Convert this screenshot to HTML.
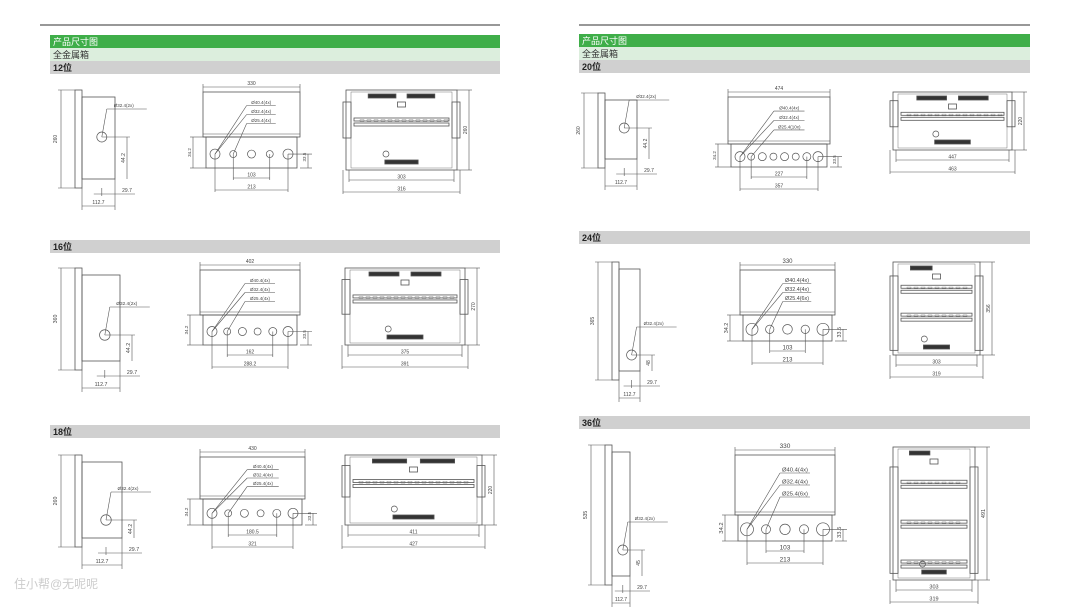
<!DOCTYPE html>
<html><head><meta charset="utf-8">
<style>
body{margin:0;background:#fff;width:1080px;height:607px;overflow:hidden;font-family:"Liberation Sans","Noto Sans CJK SC",sans-serif}
svg{position:absolute;left:0;top:0}
text{font-family:"Liberation Sans","Noto Sans CJK SC",sans-serif}
</style></head><body>
<svg id="s" width="1080" height="607" viewBox="0 0 1080 607">
<line x1="40" y1="25" x2="500" y2="25" stroke="#777" stroke-width="1.5"/>
<line x1="579" y1="25" x2="1030" y2="25" stroke="#777" stroke-width="1.5"/>
<rect x="50" y="35" width="450" height="13" fill="#3fae49"/>
<rect x="50" y="48" width="450" height="13" fill="#dceedd"/>
<rect x="50" y="61" width="450" height="13" fill="#d0d0d0"/>
<text x="53" y="45" font-size="9" fill="#fff">产品尺寸图</text>
<text x="53" y="58" font-size="9" fill="#333">全金属箱</text>
<text x="53" y="71" font-size="9" fill="#222" font-weight="bold">12位</text>
<rect x="579" y="34" width="451" height="13" fill="#3fae49"/>
<rect x="579" y="47" width="451" height="13" fill="#dceedd"/>
<rect x="579" y="60" width="451" height="13" fill="#d0d0d0"/>
<text x="582" y="44" font-size="9" fill="#fff">产品尺寸图</text>
<text x="582" y="57" font-size="9" fill="#333">全金属箱</text>
<text x="582" y="70" font-size="9" fill="#222" font-weight="bold">20位</text>
<rect x="50" y="240" width="450" height="13" fill="#d0d0d0"/>
<text x="53" y="250" font-size="9" fill="#222" font-weight="bold">16位</text>
<rect x="50" y="425" width="450" height="13" fill="#d0d0d0"/>
<text x="53" y="435" font-size="9" fill="#222" font-weight="bold">18位</text>
<rect x="579" y="231" width="451" height="13" fill="#d0d0d0"/>
<text x="582" y="241" font-size="9" fill="#222" font-weight="bold">24位</text>
<rect x="579" y="416" width="451" height="13" fill="#d0d0d0"/>
<text x="582" y="426" font-size="9" fill="#222" font-weight="bold">36位</text>
<text x="14" y="588" font-size="12" fill="#ccc">住小帮@无呢呢</text>
<g id="d" fill="none" stroke="#555" stroke-width="0.7"></g>
</svg>
<script>
var g=document.getElementById('d'),NS='http://www.w3.org/2000/svg';
function el(t,a,txt){var e=document.createElementNS(NS,t);for(var k in a)e.setAttribute(k,a[k]);if(txt!=null)e.textContent=txt;g.appendChild(e);return e;}
function L(a,b,c,d,w){el('line',{x1:a,y1:b,x2:c,y2:d,'stroke-width':w||0.6});}
function R(x,y,w,h,f,sw){el('rect',{x:x,y:y,width:w,height:h,fill:f||'none','stroke-width':sw||0.8});}
function C(x,y,r,f){el('circle',{cx:x,cy:y,r:r,fill:f||'none'});}
function T(x,y,s,fs,rot){var a={x:x,y:y,'font-size':fs||5,fill:'#444',stroke:'none','text-anchor':'middle'};if(rot)a.transform='rotate(-90 '+x+' '+y+')';el('text',a,s);}
function side(x,y,w,h,cy,sc){
 R(x,y,7,h);R(x+7,y+7,w-7,h-16);
 L(x-14,y,x-14,y+h);L(x-17,y,x,y);L(x-17,y+h,x,y+h);T(x-18,y+h/2,sc.h,5*sc.f,1);
 var cx=x+7+(w-7)*0.6;C(cx,cy,5*sc.f);
 L(cx,cy,cx+5,cy-28);L(cx+5,cy-28,cx+45,cy-28);T(cx+22,cy-30,'Ø32.4(2x)',4.5*sc.f);
 L(cx,cy,x+w+15,cy);L(x+w+12,cy,x+w+12,y+h-9);T(x+w+10,(cy+y+h-9)/2,sc.a,5*sc.f,1);
 L(cx,y+h,cx,y+h+8);L(x+w,y+h-9,x+w,y+h+22);L(cx-8,y+h+6,x+w+20,y+h+6);T(x+w+12,y+h+4,'29.7',5*sc.f);
 L(x+7,y+h,x+7,y+h+22);L(x+7,y+h+18,x+w,y+h+18);T((x+7+x+w)/2,y+h+16,'112.7',5*sc.f);
}
function front(x,y,w,h1,h2,n,sc){
 R(x,y,w,h1);L(x,y+h1-3,x+w,y+h1-3);R(x+3,y+h1,w-6,h2);
 L(x,y-5,x+w,y-5);L(x,y-8,x,y);L(x+w,y-8,x+w,y);T(x+w/2,y-7,sc.W,5*sc.f);
 var cy=y+h1+h2*0.55,st=(w-24)/(n-1),xs=[];
 for(var i=0;i<n;i++){var cx=x+12+i*st;xs.push(cx);var r=(i==0||i==n-1)?5*sc.f:(i%2?3.5*sc.f:4*sc.f);C(cx,cy,r);}
 var ly=[y+h1*0.3,y+h1*0.5,y+h1*0.7],lb=sc.lab;
 for(var j=0;j<3;j++){L(xs[j==2?1:0],cy,x+w*0.45,ly[j]);L(x+w*0.45,ly[j],x+w*0.75,ly[j]);T(x+w*0.6,ly[j]-1.5,lb[j],4.5*sc.f);}
 L(x-10,y+h1,x-10,y+h1+h2);L(x-13,y+h1,x+3,y+h1);L(x-13,y+h1+h2,x+3,y+h1+h2);T(x-12,y+h1+h2/2,sc.v1,4.5*sc.f,1);
 L(xs[n-1],cy,x+w+12,cy);L(x+w+8,cy,x+w+8,y+h1+h2);L(x+w,y+h1+h2,x+w+12,y+h1+h2);T(x+w+6,cy+3,sc.v2,4.5*sc.f,1);
 var b1=y+h1+h2+10,b2=b1+12;
 L(xs[1],cy,xs[1],b1+2);L(xs[n-2],cy,xs[n-2],b1+2);L(xs[1],b1,xs[n-2],b1);T((xs[1]+xs[n-2])/2,b1-1.5,sc.d1,5*sc.f);
 L(xs[0],cy,xs[0],b2+2);L(xs[n-1],cy,xs[n-1],b2+2);L(xs[0],b2,xs[n-1],b2);T((xs[0]+xs[n-1])/2,b2-1.5,sc.d2,5*sc.f);
}
function back(x,y,w,h,rails,sc){
 R(x,y,w,h);R(x+5,y+2,w-10,h-4,'none',0.4);
 var tw=w*0.25;R(x+w*0.2,y+4,tw,4,'#333');if(!sc.one)R(x+w*0.55,y+4,tw,4,'#333');
 R(x+w/2-4,y+12,8,5);
 for(var k=0;k<rails;k++){var ry=y+h*(rails==1?0.35:(0.25+k*0.3));R(x+8,ry,w-16,3);R(x+8,ry+5,w-16,3);
  for(var q=x+14;q<x+w-12;q+=7)R(q,ry+1.8,4,1.8,'none',0.3);}
 R(x-3,y+h*0.15,8,h*(rails==1?0.45:0.8));R(x+w-5,y+h*0.15,8,h*(rails==1?0.45:0.8));
 R(x+w*0.35,y+h-10,w*0.3,4,'#333');C(x+w*0.36,y+h-16,3);
 L(x+w,y,x+w+15,y);L(x+w,y+h,x+w+15,y+h);L(x+w+12,y,x+w+12,y+h);T(x+w+10,y+h/2,sc.H,5*sc.f,1);
 var d1=y+h+10,d2=d1+12;
 L(x+3,y+h,x+3,d1+2);L(x+w-3,y+h,x+w-3,d1+2);L(x+3,d1,x+w-3,d1);T(x+w/2,d1-1.5,sc.a,5*sc.f);
 L(x-3,y+h,x-3,d2+2);L(x+w+3,y+h,x+w+3,d2+2);L(x-3,d2,x+w+3,d2);T(x+w/2,d2-1.5,sc.b,5*sc.f);
}
var labA=['Ø40.4(4x)','Ø32.4(4x)','Ø25.4(4x)'],labB=['Ø40.4(4x)','Ø32.4(4x)','Ø25.4(6x)'];
// 12
side(75,90,40,98,137,{h:'260',a:'44.2',f:1});
front(203,92,97,45,31,5,{W:'330',lab:labA,v1:'34.2',v2:'33.5',d1:'103',d2:'213',f:1});
back(346,90,111,80,1,{H:'260',a:'303',b:'316',f:1});
// 16
side(75,268,45,102,335,{h:'360',a:'44.2',f:1.05});
front(200,270,100,45,30,6,{W:'402',lab:labA,v1:'34.2',v2:'33.5',d1:'162',d2:'288.2',f:1});
back(345,268,120,77,1,{H:'270',a:'375',b:'391',f:1});
// 18
side(75,455,47,92,520,{h:'260',a:'44.2',f:1.05});
front(200,457,105,42,26,6,{W:'430',lab:labA,v1:'34.2',v2:'33.5',d1:'180.5',d2:'321',f:1});
back(345,455,137,70,1,{H:'220',a:'411',b:'427',f:1});
// 20
side(598,93,39,75,128,{h:'260',a:'44.2',f:1});
front(728,97,102,47,23,8,{W:'474',lab:['Ø40.4(4x)','Ø32.4(4x)','Ø25.4(10x)'],v1:'34.2',v2:'33.5',d1:'227',d2:'357',f:1});
back(893,92,119,58,1,{H:'220',a:'447',b:'463',f:1});
// 24
side(612,262,28,118,355,{h:'365',a:'48',f:1});
front(740,270,95,45,26,5,{W:'330',lab:labB,v1:'34.2',v2:'33.5',d1:'103',d2:'213',f:1.2});
back(893,262,87,93,2,{H:'356',a:'303',b:'319',one:1,f:1});
// 36
side(605,445,25,140,550,{h:'535',a:'45',f:1});
front(735,455,100,60,26,5,{W:'330',lab:labB,v1:'34.2',v2:'33.5',d1:'103',d2:'213',f:1.3});
back(893,447,82,133,3,{H:'491',a:'303',b:'319',one:1,f:1.1});
</script>
</body></html>
